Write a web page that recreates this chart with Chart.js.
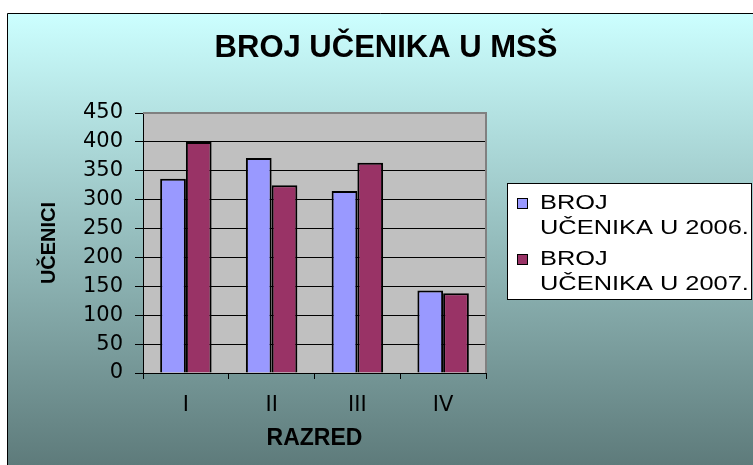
<!DOCTYPE html>
<html>
<head>
<meta charset="utf-8">
<script src="https://cdn.jsdelivr.net/npm/chart.js@4"></script>
<style>
  html, body { margin: 0; padding: 0; background: #fff; }
  #wrap { width: 753px; height: 465px; }
</style>
</head>
<body>
<div id="wrap"><canvas id="myChart"></canvas></div>
<script>
const categories = ['I', 'II', 'III', 'IV'];
const seriesNames = ['BROJ UČENIKA U 2006.', 'BROJ UČENIKA U 2007.'];
const values2006 = [336, 372, 315, 143];
const values2007 = [400, 325, 364, 138];
const yTicks = [0, 50, 100, 150, 200, 250, 300, 350, 400, 450];
const chartTitle = 'BROJ UČENIKA U MSŠ';

const ARIAL = 'Arial, "Liberation Sans", sans-serif';
const WIDE = '"DejaVu Sans", sans-serif';

// background, plot area, title and legend box
const frame = {
  id: 'frame',
  beforeDraw(chart) {
    const ctx = chart.ctx;
    const a = chart.chartArea;
    ctx.save();
    ctx.fillStyle = '#ffffff';
    ctx.fillRect(0, 0, chart.width, chart.height);
    const g = ctx.createLinearGradient(0, 13, 0, chart.height);
    g.addColorStop(0, '#ccffff');
    g.addColorStop(1, '#5e7b7b');
    ctx.fillStyle = g;
    ctx.fillRect(7, 13, chart.width - 7, chart.height - 13);
    ctx.strokeStyle = '#000';
    ctx.lineWidth = 1;
    ctx.beginPath();
    ctx.moveTo(7.5, chart.height);
    ctx.lineTo(7.5, 13.5);
    ctx.lineTo(chart.width, 13.5);
    ctx.stroke();
    ctx.fillStyle = '#c0c0c0';
    ctx.fillRect(a.left, a.top, a.right - a.left, a.bottom - a.top);
    ctx.fillStyle = '#000';
    ctx.font = 'bold 31px ' + ARIAL;
    ctx.textAlign = 'center';
    ctx.textBaseline = 'middle';
    ctx.fillText(chartTitle, 386, 48);
    ctx.restore();
  },
  afterDatasetsDraw(chart) {
    const ctx = chart.ctx;
    const a = chart.chartArea;
    ctx.save();
    ctx.strokeStyle = '#808080';
    ctx.lineWidth = 2;
    ctx.beginPath();
    ctx.moveTo(a.left, a.top);
    ctx.lineTo(a.right, a.top);
    ctx.lineTo(a.right, a.bottom);
    ctx.stroke();
    // legend
    const bx = 507, by = 183, bw = 244, bh = 116;
    ctx.fillStyle = '#fff';
    ctx.fillRect(bx, by, bw, bh);
    ctx.strokeStyle = '#000';
    ctx.lineWidth = 1;
    ctx.strokeRect(bx + 0.5, by + 0.5, bw, bh);
    ctx.font = '20px ' + ARIAL;
    ctx.textAlign = 'left';
    ctx.textBaseline = 'middle';
    chart.data.datasets.forEach((ds, i) => {
      const y0 = by + 20 + i * 56;
      ctx.fillStyle = ds.backgroundColor;
      ctx.fillRect(bx + 10, y0 - 5, 10, 10);
      ctx.strokeRect(bx + 10.5, y0 - 4.5, 10, 10);
      ctx.fillStyle = '#000';
      const parts = ds.label.split(' ');
      const lines = [parts[0], parts.slice(1).join(' ')];
      lines.forEach((t, k) => {
        ctx.save();
        ctx.translate(bx + 33, y0 + k * 25);
        ctx.scale(1.27, 1);
        ctx.fillText(t, 0, 0);
        ctx.restore();
      });
    });
    ctx.restore();
  }
};

new Chart(document.getElementById('myChart'), {
  type: 'bar',
  data: {
    labels: categories,
    datasets: [
      { label: seriesNames[0], data: values2006, backgroundColor: '#9999ff', borderColor: '#000', borderWidth: 2 },
      { label: seriesNames[1], data: values2007, backgroundColor: '#993366', borderColor: '#000', borderWidth: 2 }
    ]
  },
  options: {
    responsive: true,
    maintainAspectRatio: false,
    animation: false,
    devicePixelRatio: 1,
    layout: { padding: { left: 0, top: 113, right: 267, bottom: 0 } },
    datasets: { bar: { categoryPercentage: 0.6, barPercentage: 1 } },
    plugins: {
      legend: { display: false },
      title: { display: false },
      tooltip: { enabled: false }
    },
    scales: {
      x: {
        afterFit(s) { s.height = 92; },
        grid: { drawOnChartArea: false, drawTicks: true, tickLength: 6, color: '#000', offset: true },
        border: { color: '#000', width: 1 },
        ticks: { color: '#000', padding: 14, font: { family: WIDE, size: 21 } },
        title: { display: true, text: 'RAZRED', color: '#000', padding: { top: 0, bottom: 13 }, font: { family: ARIAL, size: 23, weight: 'bold' } }
      },
      y: {
        min: 0,
        max: 450,
        afterFit(s) { s.width = 143; },
        afterBuildTicks(s) { s.ticks = yTicks.map(v => ({ value: v })); },
        grid: { color: '#000', tickLength: 8, lineWidth: 1 },
        border: { color: '#000', width: 1 },
        ticks: { color: '#000', padding: 12, font: { family: WIDE, size: 21 } },
        title: { display: true, text: 'UČENICI', color: '#000', padding: { top: 37, bottom: 0 }, font: { family: ARIAL, size: 20, weight: 'bold' } }
      }
    }
  },
  plugins: [frame]
});
</script>
</body>
</html>
